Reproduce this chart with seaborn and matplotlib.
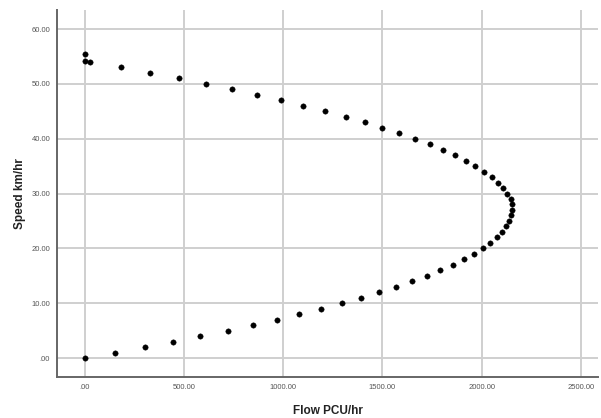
import matplotlib
matplotlib.use("Agg")
import matplotlib.pyplot as plt
import seaborn as sns
import pandas as pd
from matplotlib.ticker import FuncFormatter

speed = [0, 1, 2, 3, 4, 5, 6, 7, 8, 9, 10, 11, 12, 13, 14, 15, 16, 17, 18, 19,
         20, 21, 22, 23, 24, 25, 26, 27, 28, 29, 30, 31, 32, 33, 34, 35, 36, 37,
         38, 39, 40, 41, 42, 43, 44, 45, 46, 47, 48, 49, 50, 51, 52, 53, 54,
         54.2, 55.4]
flow = [0, 154, 304, 448, 583, 722, 846, 967, 1081, 1191, 1294, 1393, 1483, 1569,
        1650, 1722, 1791, 1853, 1910, 1960, 2004, 2042, 2077, 2104, 2123, 2135,
        2145, 2150, 2152, 2145, 2129, 2106, 2081, 2049, 2012, 1968, 1920, 1865,
        1803, 1737, 1663, 1584, 1500, 1410, 1314, 1210, 1102, 988, 869, 743, 612,
        478, 332, 182, 30, 0, 0]

x_ticks = [0, 500, 1000, 1500, 2000, 2500]
y_ticks = [0, 10, 20, 30, 40, 50, 60]

df = pd.DataFrame({"Flow PCU/hr": flow, "Speed km/hr": speed})

sns.set_style("white")
plt.rcParams['font.family'] = ['Liberation Sans', 'DejaVu Sans']

fig = plt.figure(figsize=(6.01, 4.18), dpi=100)
ax = fig.add_axes([0.095, 0.098, 0.90, 0.878])

sns.scatterplot(data=df, x="Flow PCU/hr", y="Speed km/hr", ax=ax,
                color="black", s=15, edgecolor="black", linewidth=0.3, zorder=3)

ax.set_xlim(-138, 2585)
ax.set_ylim(-3.47, 63.47)
ax.set_xticks(x_ticks)
ax.set_yticks(y_ticks)

def fmt(v, pos):
    s = f"{v:.2f}"
    if s.startswith("0."):
        s = s[1:]
    return s

ax.xaxis.set_major_formatter(FuncFormatter(fmt))
ax.yaxis.set_major_formatter(FuncFormatter(fmt))

ax.grid(True, color="#cfcfcf", linewidth=1.4)
ax.set_axisbelow(True)
ax.tick_params(axis="both", length=0, labelsize=5.5, labelcolor="#555555", pad=5)

for side in ["top", "right"]:
    ax.spines[side].set_visible(False)
for side in ["left", "bottom"]:
    ax.spines[side].set_color("#666666")
    ax.spines[side].set_linewidth(1.4)

ax.set_xlabel("Flow PCU/hr", fontsize=8.5, fontweight="bold", color="#222222", labelpad=10)
ax.set_ylabel("Speed km/hr", fontsize=8.5, fontweight="bold", color="#222222", labelpad=4)

fig.savefig("out.png", dpi=100)
